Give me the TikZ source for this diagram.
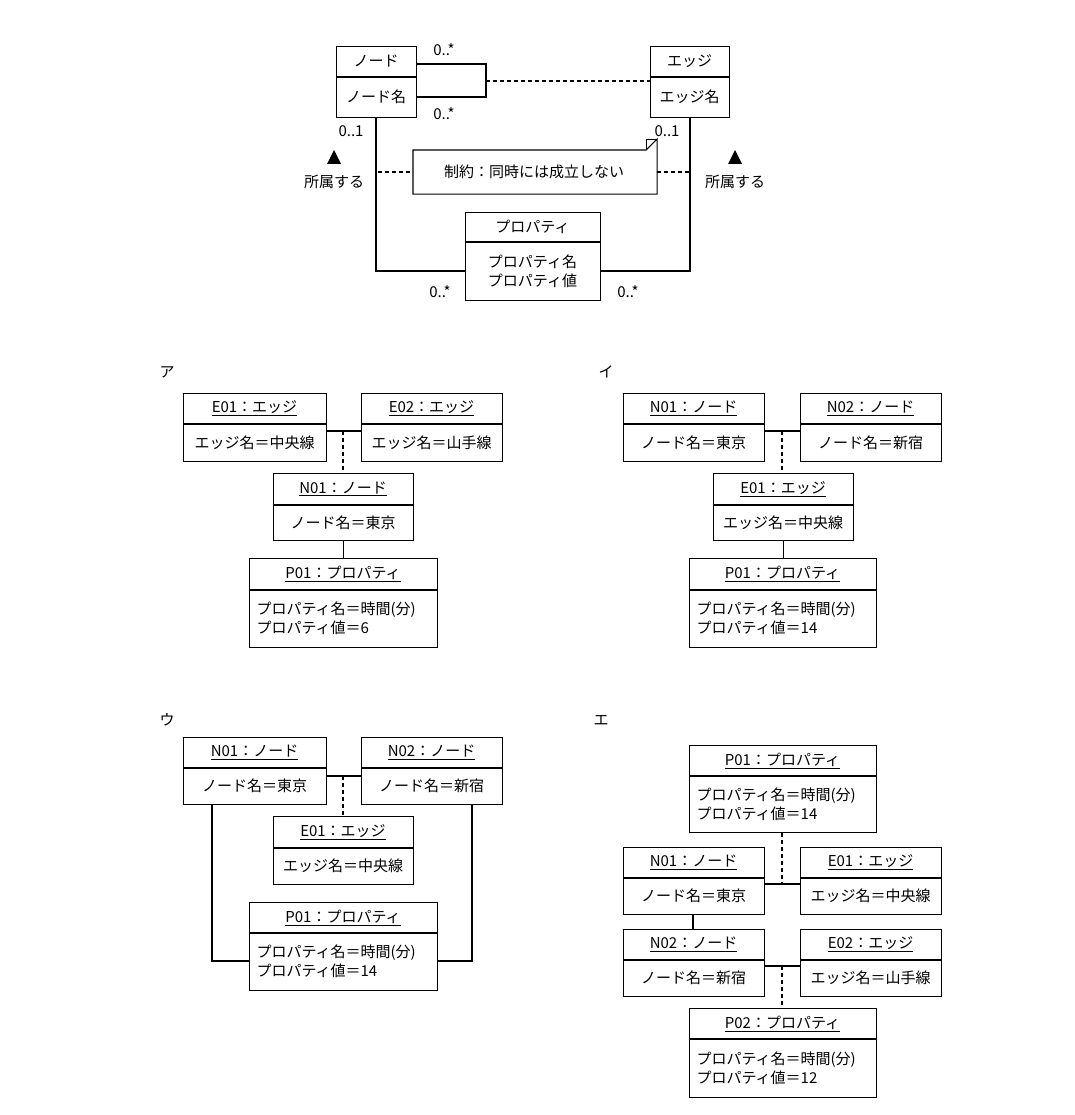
\documentclass[tikz,border=0pt]{standalone}
\usepackage{fontspec}
\setmainfont{Noto Sans CJK JP}
\begin{document}
\begin{tikzpicture}[x=1pt,y=-1pt,line width=1.1pt,
  txt/.style={inner sep=0pt,font=\fontsize{15}{19}\selectfont},
  lbl/.style={txt},
  dsh/.style={dash pattern=on 4pt off 3pt}]
\useasboundingbox (0,0) rectangle (1074,1115);
\newcommand\ubox[8]{%
  \node[draw,inner sep=0pt,anchor=north west,minimum width={(#4-#2)*1pt},minimum height={(#6-#3)*1pt}] (#1) at (#2,#3) {};
  \draw (#2,#5) -- (#4,#5);
  \node[txt] at ({(#2+#4)/2},{(#3+#5)/2}) {#7};
  \node[txt,align=center] at ({(#2+#4)/2},{(#5+#6)/2}) {#8};}
\newcommand\pbox[8]{%
  \node[draw,inner sep=0pt,anchor=north west,minimum width={(#4-#2)*1pt},minimum height={(#6-#3)*1pt}] (#1) at (#2,#3) {};
  \draw (#2,#5) -- (#4,#5);
  \node[txt] at ({(#2+#4)/2},{(#3+#5)/2}) {\underline{#7}};
  \node[txt,align=left,anchor=west] at ({#2+7},{(#5+#6)/2}) {プロパティ名＝時間(分)\\プロパティ値＝#8};}
% ---------- top ----------
\ubox{nd}{336}{46}{416}{77}{117}{ノード}{ノード名}
\ubox{ed}{650}{46}{729}{77}{117}{エッジ}{エッジ名}
\ubox{pr}{465}{212}{600}{242}{300}{プロパティ}{プロパティ名\\プロパティ値}
\coordinate (k1) at (486,64); \coordinate (k2) at (486,97); \coordinate (k3) at (486,81);
\draw (nd.east |- k1) -- (k1) -- (k2) -- (nd.east |- k2);
\draw[dsh] (k3) -- (ed.west |- k3);
\coordinate (a1) at (376,271); \coordinate (a2) at (690,271);
\draw (nd.south -| a1) -- (a1) -- (pr.west |- a1);
\draw (ed.south -| a2) -- (a2) -- (pr.east |- a2);
\node[inner sep=0pt,minimum width=243pt,minimum height=43pt,anchor=north west] (note) at (413,150) {};
\draw (note.south west) -- (note.north west) -- ([xshift=-11pt]note.north east) -- ([yshift=11pt]note.north east) -- (note.south east) -- cycle;
\draw[line width=0.7pt] ([xshift=-11pt]note.north east) -- ([xshift=-11pt,yshift=11pt]note.north east) -- ([yshift=11pt]note.north east);
\node[txt] at (534,172) {制約：同時には成立しない};
\coordinate (d1) at (378,172); \coordinate (d2) at (690,172);
\draw[dsh] (d1) -- (note.west |- d1);
\draw[dsh] (note.east |- d2) -- (d2);
\node[lbl] at (444,50) {0..*};
\node[lbl] at (444,114) {0..*};
\node[lbl] at (351,131) {0..1};
\node[lbl] at (667,131) {0..1};
\node[lbl] at (440,292) {0..*};
\node[lbl] at (628,292) {0..*};
\fill (327,164) -- (341,164) -- (334,150) -- cycle;
\fill (728,164) -- (742,164) -- (735,150) -- cycle;
\node[lbl] at (334,182) {所属する};
\node[lbl] at (735,182) {所属する};
% ---------- ア ----------
\node[lbl] at (167,372) {ア};
\ubox{aE1}{183}{393}{326}{424}{461}{\underline{E01：エッジ}}{エッジ名＝中央線}
\ubox{aE2}{361}{393}{502}{424}{461}{\underline{E02：エッジ}}{エッジ名＝山手線}
\ubox{aN1}{273}{473}{413}{505}{540}{\underline{N01：ノード}}{ノード名＝東京}
\pbox{aP1}{249}{558}{437}{590}{647}{P01：プロパティ}{6}
\coordinate (am) at (343,431);
\draw (aE1.east |- am) -- (aE2.west |- am);
\draw[dsh] (am) -- (aN1.north -| am);
\draw (aN1.south) -- (aP1.north -| aN1.south);
% ---------- イ ----------
\node[lbl] at (606,372) {イ};
\ubox{iN1}{623}{393}{764}{424}{461}{\underline{N01：ノード}}{ノード名＝東京}
\ubox{iN2}{800}{393}{941}{424}{461}{\underline{N02：ノード}}{ノード名＝新宿}
\ubox{iE1}{713}{473}{853}{505}{540}{\underline{E01：エッジ}}{エッジ名＝中央線}
\pbox{iP1}{689}{558}{876}{590}{647}{P01：プロパティ}{14}
\coordinate (im) at (782,431);
\draw (iN1.east |- im) -- (iN2.west |- im);
\draw[dsh] (im) -- (iE1.north -| im);
\draw (iE1.south) -- (iP1.north -| iE1.south);
% ---------- ウ ----------
\node[lbl] at (167,720) {ウ};
\ubox{uN1}{183}{737}{326}{768}{804}{\underline{N01：ノード}}{ノード名＝東京}
\ubox{uN2}{361}{737}{502}{768}{804}{\underline{N02：ノード}}{ノード名＝新宿}
\ubox{uE1}{273}{816}{413}{848}{884}{\underline{E01：エッジ}}{エッジ名＝中央線}
\pbox{uP1}{249}{902}{437}{933}{990}{P01：プロパティ}{14}
\coordinate (um) at (343,776);
\draw (uN1.east |- um) -- (uN2.west |- um);
\draw[dsh] (um) -- (uE1.north -| um);
\coordinate (u1) at (212,961); \coordinate (u2) at (472,961);
\draw (uN1.south -| u1) -- (u1) -- (uP1.west |- u1);
\draw (uN2.south -| u2) -- (u2) -- (uP1.east |- u2);
% ---------- エ ----------
\node[lbl] at (601,720) {エ};
\pbox{eP1}{689}{745}{876}{776}{832}{P01：プロパティ}{14}
\ubox{eN1}{623}{847}{764}{878}{914}{\underline{N01：ノード}}{ノード名＝東京}
\ubox{eE1}{800}{847}{941}{878}{914}{\underline{E01：エッジ}}{エッジ名＝中央線}
\ubox{eN2}{623}{929}{764}{960}{996}{\underline{N02：ノード}}{ノード名＝新宿}
\ubox{eE2}{800}{929}{941}{960}{996}{\underline{E02：エッジ}}{エッジ名＝山手線}
\pbox{eP2}{689}{1008}{876}{1039}{1097}{P02：プロパティ}{12}
\coordinate (em1) at (782,884); \coordinate (em2) at (782,966); \coordinate (ex) at (693,0);
\draw (eN1.east |- em1) -- (eE1.west |- em1);
\draw[dsh] (eP1.south -| em1) -- (em1);
\draw (eN1.south -| ex) -- (eN2.north -| ex);
\draw (eN2.east |- em2) -- (eE2.west |- em2);
\draw[dsh] (em2) -- (eP2.north -| em2);
\end{tikzpicture}
\end{document}
